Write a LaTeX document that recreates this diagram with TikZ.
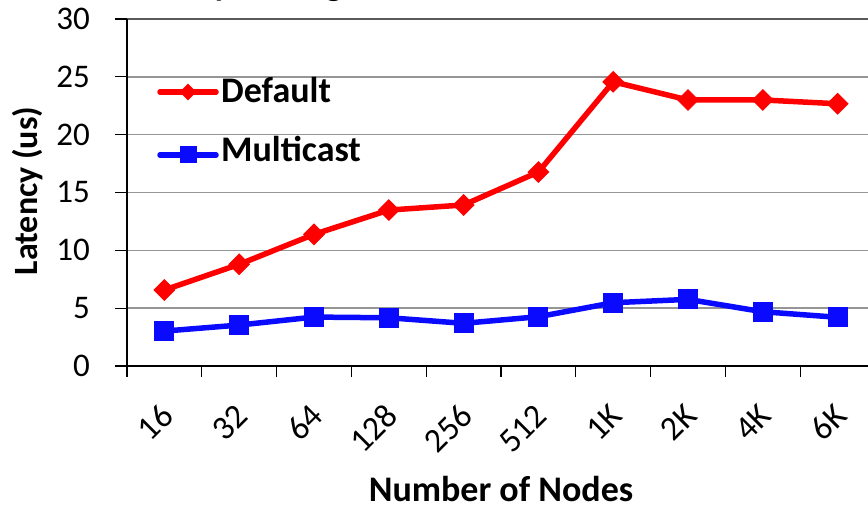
\documentclass[tikz,border=0pt]{standalone}
\usepackage{fontspec}
\setmainfont{Carlito}
\usetikzlibrary{shapes.geometric}
\definecolor{gridgray}{RGB}{150,150,150}
\definecolor{topgray}{RGB}{90,90,90}
\definecolor{serred}{RGB}{255,0,0}
\definecolor{serblue}{RGB}{10,10,255}

\begin{document}
\begin{tikzpicture}[x=1pt,y=1pt,
  gridline/.style={draw=gridgray,line width=1.5pt},
  axisline/.style={draw=black,line width=1.6pt},
  tickline/.style={draw=black,line width=1.3pt},
  ticklabel/.style={font=\fontsize{33}{36}\selectfont,inner sep=0pt},
  axtitle/.style={font=\bfseries\fontsize{36}{40}\selectfont,inner sep=0pt},
  redmark/.style={diamond,fill=serred,inner sep=0pt,minimum width=22pt,minimum height=22pt},
  bluemark/.style={rectangle,fill=serblue,inner sep=0pt,minimum size=20pt},
  redline/.style={draw=serred,line width=5.5pt,line join=round},
  blueline/.style={draw=serblue,line width=5.5pt,line join=round},
]
\useasboundingbox (0,0) rectangle (868,509);
\clip (0,0) rectangle (868,509);

% chart title, mostly above the top edge
\node[anchor=base west,inner sep=0pt,font=\bfseries\fontsize{36}{40}\selectfont] (title) at (116,513.2) {Latency Scaling};

% axis titles
\node[axtitle,font=\bfseries\fontsize{34}{38}\selectfont,rotate=90] (ytitle) at (28,318) {Latency (us)};
\node[axtitle,anchor=base] (xtitle) at (501,8) {Number of Nodes};

\begin{scope}[shift={(127,143)},x=74.8pt,y=11.567pt]
  % horizontal grid
  \foreach \v in {5,10,15,20,25}
    \draw[gridline] (0,\v) -- (10,\v);
  \draw[draw=topgray,line width=1.6pt] (0,30) -- (10,30);

  % axes
  \draw[axisline] (0,0) -- (0,30);
  \draw[axisline] (0,0) -- (10,0);
  \foreach \v in {0,5,...,30} {
    \draw[tickline] (0,\v) -- ++(-12pt,0);
    \node[ticklabel,anchor=east] (yl\v) at ([xshift=-37pt]0,\v) {\v};
  }
  \foreach \i in {0,...,10}
    \draw[tickline] (\i,0) -- ++(0,-11pt);
  \foreach \lab [count=\i] in {16,32,64,128,256,512,1K,2K,4K,6K}
    \node[ticklabel,font=\fontsize{34}{37}\selectfont,anchor=east,rotate=45] (xl\i) at ([xshift=3pt,yshift=-44pt]\i-0.5,0) {\lab};

  % Default series
  \foreach \v [count=\i] in {6.57,8.79,11.38,13.48,13.92,16.77,24.57,23.0,23.0,22.67}
    \coordinate (d\i) at (\i-0.5,\v);
  \draw[redline] (d1) -- (d2) -- (d3) -- (d4) -- (d5) -- (d6) -- (d7) -- (d8) -- (d9) -- (d10);
  \foreach \i in {1,...,10}
    \node[redmark] (dm\i) at (d\i) {};

  % Multicast series
  \foreach \v [count=\i] in {3.02,3.54,4.23,4.17,3.69,4.26,5.47,5.76,4.69,4.21}
    \coordinate (m\i) at (\i-0.5,\v);
  \draw[blueline] (m1) -- (m2) -- (m3) -- (m4) -- (m5) -- (m6) -- (m7) -- (m8) -- (m9) -- (m10);
  \foreach \i in {1,...,10}
    \node[bluemark] (mm\i) at (m\i) {};
\end{scope}

% legend
\coordinate (ra) at (160,417);
\coordinate (rb) at (216,417);
\draw[redline,line cap=round] (ra) -- (rb);
\node[redmark,minimum width=17pt,minimum height=17pt] (rk) at (188,417) {};
\node[axtitle,anchor=base west] (rt) at (221,406) {Default};

\coordinate (ba) at (160,354);
\coordinate (bb) at (216,354);
\draw[blueline,line cap=round] (ba) -- (bb);
\node[bluemark,minimum size=17pt] (bk) at (188,354) {};
\node[axtitle,anchor=base west] (bt) at (221,347) {Multicast};
\end{tikzpicture}
\end{document}
